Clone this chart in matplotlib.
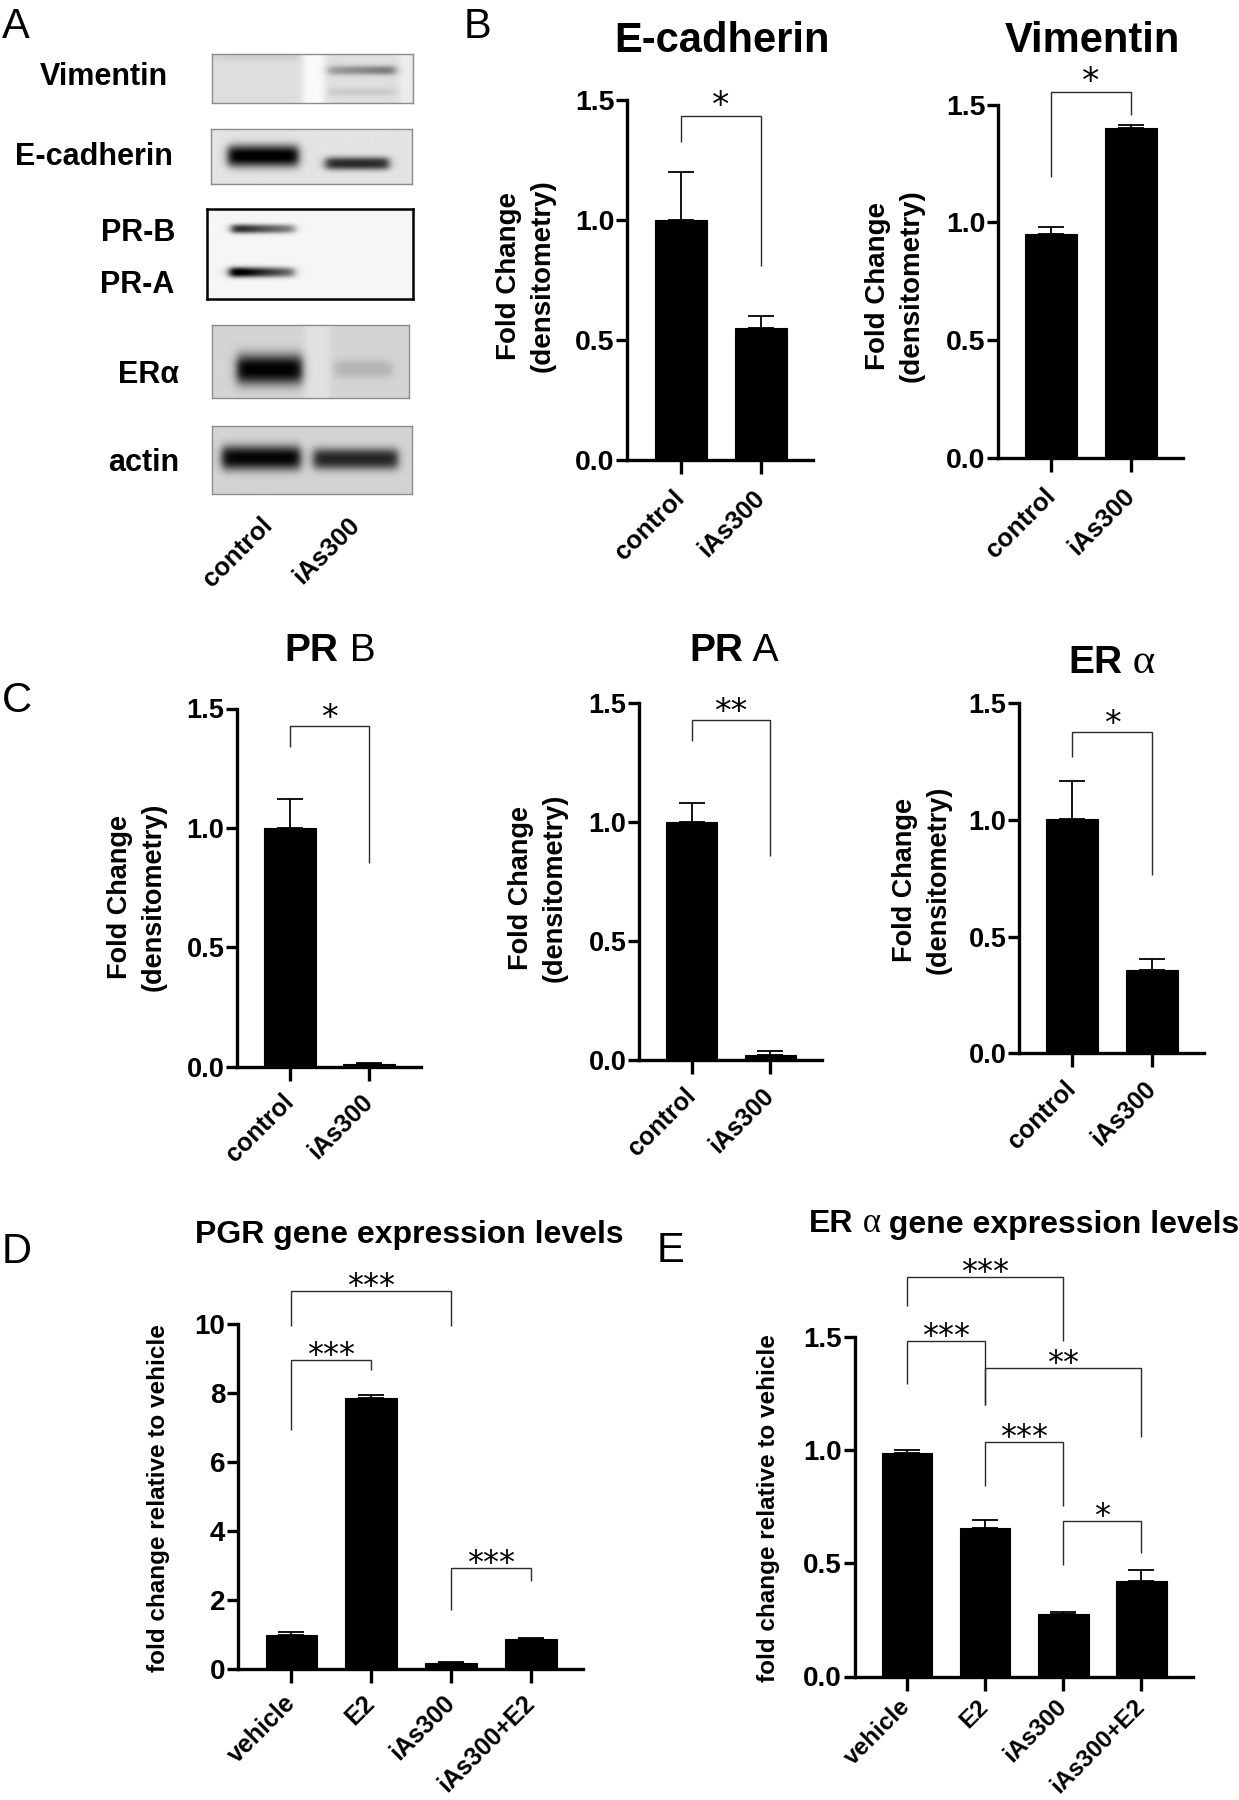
import numpy as np
import matplotlib
matplotlib.use('Agg')
import matplotlib.pyplot as plt
from matplotlib import font_manager

# ---------------- data ----------------
blot_labels = ['Vimentin', 'E-cadherin', 'PR-B', 'PR-A', 'ERα', 'actin']
lanes = ['control', 'iAs300']

groups2 = ['control', 'iAs300']
ecad_mean = [1.00, 0.55]
ecad_err = [0.20, 0.05]
vim_mean = [0.95, 1.40]
vim_err = [0.03, 0.015]
prb_mean = [1.00, 0.012]
prb_err = [0.12, 0.004]
pra_mean = [1.00, 0.02]
pra_err = [0.08, 0.018]
era_mean = [1.005, 0.355]
era_err = [0.163, 0.048]

groups4 = ['vehicle', 'E2', 'iAs300', 'iAs300+E2']
pgr_mean = [0.98, 7.87, 0.16, 0.86]
pgr_err = [0.08, 0.07, 0.03, 0.02]
esr_mean = [0.985, 0.654, 0.274, 0.422]
esr_err = [0.015, 0.038, 0.010, 0.046]

ticks_15 = [0.0, 0.5, 1.0, 1.5]
ticklabels_15 = ['0.0', '0.5', '1.0', '1.5']
ticks_10 = [0, 2, 4, 6, 8, 10]
ticklabels_10 = ['0', '2', '4', '6', '8', '10']

# significance: (group i, group j, bracket height, left leg end, right leg end, label)
ecad_sig = [(0, 1, 1.434, 1.324, 0.806, '*')]
vim_sig = [(0, 1, 1.556, 1.192, 1.456, '*')]
prb_sig = [(0, 1, 1.428, 1.340, 0.854, '*')]
pra_sig = [(0, 1, 1.427, 1.338, 0.857, '**')]
era_sig = [(0, 1, 1.377, 1.270, 0.762, '*')]
pgr_sig = [(0, 1, 8.97, 6.92, 8.67, '***'),
           (0, 2, 10.97, 9.95, 9.95, '***'),
           (2, 3, 2.94, 1.70, 2.55, '***')]
esr_sig = [(0, 2, 1.765, 1.633, 1.481, '***'),
           (0, 1, 1.481, 1.292, 1.200, '***'),
           (1, 3, 1.363, 1.200, 1.059, '**'),
           (1, 2, 1.035, 0.839, 0.751, '***'),
           (2, 3, 0.687, 0.493, 0.546, '*')]

# ---------------- fonts ----------------
SANS = 'Liberation Sans'
SERIF = 'Liberation Serif'
STAR = 'DejaVu Sans'
plt.rcParams['font.family'] = [SANS, 'DejaVu Sans']
_names = {f.name for f in font_manager.fontManager.ttflist}
NARROW = 'Liberation Sans Narrow' if 'Liberation Sans Narrow' in _names else SANS

# ---------------- figure ----------------
W, H, DPI = 1239, 1800, 100
fig = plt.figure(figsize=(W / DPI, H / DPI), dpi=DPI)
fig.patch.set_facecolor('white')


def fy(py):
    return 1 - py / H


def px_axes(x0, x1, ytop, ybot):
    return fig.add_axes([x0 / W, 1 - ybot / H, (x1 - x0) / W, (ybot - ytop) / H])


def rich(x, base, pieces, align='center'):
    r = fig.canvas.get_renderer()
    ts = [fig.text(0, 0, s, va='baseline', ha='left', **kw) for s, kw in pieces]
    ws = [t.get_window_extent(r).width for t in ts]
    cur = x - sum(ws) / 2 if align == 'center' else x
    for t, w in zip(ts, ws):
        t.set_position((cur / W, fy(base)))
        cur += w


# ---------------- panel A : blots ----------------
def blot(box, bg, bands, stripes=(), border='#8c8c8c', blw=1.0):
    x0, x1, y0, y1 = box
    ax = px_axes(x0, x1, y0, y1)
    nx, ny = int(x1 - x0), int(y1 - y0)
    X, Y = np.meshgrid(np.arange(nx) + x0 + 0.5, np.arange(ny) + y0 + 0.5)
    img = np.full((ny, nx), float(bg))
    for (sx0, sx1, d) in stripes:
        img += d / (1 + np.exp(-(X - sx0) / 2.0)) / (1 + np.exp((X - sx1) / 2.0))
    for (bx0, bx1, yc, hy, depth, skew) in bands:
        fxp = 1 / (1 + np.exp(-(X - bx0) / 2.5)) / (1 + np.exp((X - bx1) / 2.5))
        fyp = np.exp(-np.abs((Y - yc) / hy) ** 2.5)
        tilt = 1 + skew * ((X - (bx0 + bx1) / 2) / ((bx1 - bx0) / 2))
        img -= depth * fxp * fyp * tilt
    img = np.clip(img, 0, 255)
    ax.imshow(img, cmap='gray', vmin=0, vmax=255, aspect='auto',
              interpolation='bilinear', extent=(x0, x1, y1, y0))
    ax.set_xticks([])
    ax.set_yticks([])
    for s in ax.spines.values():
        s.set_color(border)
        s.set_linewidth(blw)


blot((212, 413, 54, 103), 222,
     [(328, 395, 71, 4.5, 85, 0.25), (215, 300, 58, 4, 14, 0), (328, 395, 92, 4, 18, 0)],
     stripes=[(303, 325, 28), (400, 413, 16)])
blot((211, 412, 129, 184), 228,
     [(228, 298, 156, 11, 232, 0.0), (325, 388, 163.5, 6.5, 185, 0.0)])
blot((207, 413, 209, 298.5), 246,
     [(232, 295, 229.6, 4.5, 165, -0.35), (230, 295, 272.5, 5, 205, -0.4)],
     border='black', blw=1.8)
blot((212, 409, 325, 398), 212,
     [(237, 302, 369.5, 15, 212, 0.0), (335, 392, 369, 9, 32, 0.0)],
     stripes=[(305, 330, 14)])
blot((212, 412, 425.6, 493.7), 212,
     [(222, 300, 458, 12, 208, 0.0), (313, 397, 459, 10.5, 175, 0.0)])

label_right = [168, 173, 175, 174, 179, 179]
label_base = [85, 164.6, 241, 292.8, 382.7, 470.7]
for lab, xr, yb in zip(blot_labels, label_right, label_base):
    fig.text(xr / W, fy(yb), lab, ha='right', va='baseline', fontsize=22, fontweight='bold')

for lab, xr in zip(lanes, [277, 364]):
    fig.text(xr / W, fy(513), lab, ha='right', va='top', rotation=45,
             fontsize=18.5, fontweight='bold')


# ---------------- bar panels ----------------
def bar_panel(box, cats, means, errs, ymax, yticks, yticklabels, sig,
              tick_fs=20, xt_fs=18, xt_pad=14, star_fs=23, star_off=-2, bw=0.65):
    x0, x1, ytop, ybot = box
    ax = px_axes(x0, x1, ytop, ybot)
    xs = np.arange(len(cats))
    ax.errorbar(xs, means, yerr=[np.zeros(len(errs)), errs], fmt='none', ecolor='black',
                elinewidth=1.3, capsize=9.4, capthick=1.3, zorder=1.2, clip_on=False)
    ax.bar(xs, means, width=bw, color='black', edgecolor='black', linewidth=0.8, zorder=1.5)
    ax.set_xlim(-0.67, len(cats) - 1 + 0.655)
    ax.set_ylim(0, ymax)
    ax.set_facecolor('none')
    for s in ['top', 'right']:
        ax.spines[s].set_visible(False)
    for s in ['left', 'bottom']:
        ax.spines[s].set_linewidth(2.4)
    ax.set_yticks(yticks)
    ax.set_yticklabels(yticklabels, fontsize=tick_fs, fontweight='bold')
    ax.set_xticks(xs)
    ax.set_xticklabels(cats, fontsize=xt_fs, fontweight='bold', rotation=45,
                       ha='right', va='center', rotation_mode='anchor')
    ax.tick_params(axis='y', length=8, width=2.4, pad=1)
    ax.tick_params(axis='x', length=10, width=2.4, pad=xt_pad)
    for (i, j, yt, yl, yr, lab) in sig:
        ax.plot([i, i, j, j], [yl, yt, yt, yr], color='#2b2b2b', lw=1.0, clip_on=False,
                solid_joinstyle='miter', solid_capstyle='butt')
        ax.annotate(lab, xy=((i + j) / 2, yt), xytext=(0, star_off),
                    textcoords='offset points', ha='center', va='baseline',
                    fontsize=star_fs, family=STAR, annotation_clip=False)
    return ax


def ylab(xc, yc, text, fs):
    fig.text(xc / W, fy(yc), text, rotation=90, ha='center', va='center',
             multialignment='center', fontsize=fs, fontweight='bold', linespacing=1.4)


FC = 'Fold Change\n(densitometry)'

# B
bar_panel((627, 813, 100.3, 459.5), groups2, ecad_mean, ecad_err, 1.5, ticks_15, ticklabels_15,
          ecad_sig, tick_fs=20.5, xt_fs=18.5, xt_pad=15, star_fs=25, star_off=0)
bar_panel((998, 1183, 104.8, 457.7), groups2, vim_mean, vim_err, 1.5, ticks_15, ticklabels_15,
          vim_sig, tick_fs=20.5, xt_fs=18.5, xt_pad=15, star_fs=25, star_off=0)
ylab(526, 276, FC, 20)
ylab(895, 286, FC, 20)
fig.text(722 / W, fy(52), 'E-cadherin', ha='center', va='baseline', fontsize=30, fontweight='bold')
fig.text(1092 / W, fy(52), 'Vimentin', ha='center', va='baseline', fontsize=30, fontweight='bold')

# C
bar_panel((237, 421, 708.5, 1066.6), groups2, prb_mean, prb_err, 1.5, ticks_15, ticklabels_15,
          prb_sig, tick_fs=19.5, xt_pad=13, star_fs=24, star_off=-1.5)
bar_panel((639, 822, 702.6, 1060), groups2, pra_mean, pra_err, 1.5, ticks_15, ticklabels_15,
          pra_sig, tick_fs=19.5, xt_pad=13, star_fs=24, star_off=-1.5)
bar_panel((1019, 1204, 703.3, 1053.2), groups2, era_mean, era_err, 1.5, ticks_15, ticklabels_15,
          era_sig, tick_fs=19.5, xt_pad=13, star_fs=24, star_off=-1.5)
ylab(137, 897, FC, 19.5)
ylab(538, 888, FC, 19.5)
ylab(922, 880, FC, 19.5)
rich(330, 661, [('PR', dict(fontsize=28, fontweight='bold', family=NARROW)),
                (' B', dict(fontsize=28, family=NARROW))])
rich(734, 661, [('PR', dict(fontsize=28, fontweight='bold', family=NARROW)),
                (' A', dict(fontsize=28, family=NARROW))])
rich(1112, 673, [('ER', dict(fontsize=28, fontweight='bold')),
                 (' α', dict(fontsize=31, family=SERIF))])

# D
bar_panel((238, 583, 1324.4, 1668.8), groups4, pgr_mean, pgr_err, 10, ticks_10, ticklabels_10,
          pgr_sig, tick_fs=20, xt_pad=12, star_fs=23, star_off=-3)
ylab(158, 1498.5, 'fold change relative to vehicle', 17.5)
fig.text(195 / W, fy(1243), 'PGR gene expression levels', ha='left', va='baseline',
         fontsize=23, fontweight='bold')

# E
bar_panel((854.6, 1192.5, 1336.6, 1676.5), groups4, esr_mean, esr_err, 1.5, ticks_15, ticklabels_15,
          esr_sig, tick_fs=20, xt_fs=17.5, xt_pad=9, star_fs=23, star_off=-3)
ylab(768.8, 1508, 'fold change relative to vehicle', 17.5)
rich(809, 1232.5, [('ER', dict(fontsize=23, fontweight='bold')),
                   (' α', dict(fontsize=25, family=SERIF)),
                   (' gene expression levels', dict(fontsize=23, fontweight='bold'))],
     align='left')

# panel letters
for letter, x, yb in [('A', 2, 38), ('B', 464, 38), ('C', 2, 712), ('D', 2, 1263), ('E', 657, 1262)]:
    fig.text(x / W, fy(yb), letter, ha='left', va='baseline', fontsize=30)

fig.savefig('out.png', dpi=DPI, facecolor='white')
